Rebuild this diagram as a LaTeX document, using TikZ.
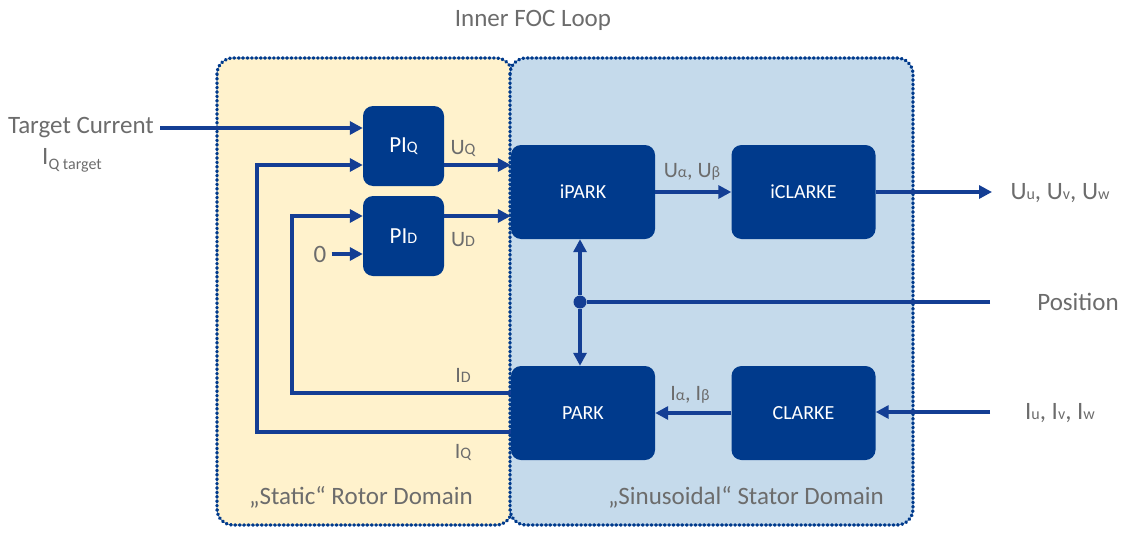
\documentclass[tikz,border=0pt]{standalone}
\usepackage{fontspec}
\setmainfont{Carlito}
\usepackage{tikz}
\usetikzlibrary{positioning,arrows.meta}

\definecolor{focblue}{RGB}{0,58,140}
\definecolor{focline}{RGB}{20,62,148}
\definecolor{rotorbg}{RGB}{255,242,204}
\definecolor{statorbg}{RGB}{197,218,235}
\definecolor{labgray}{RGB}{108,108,108}
\newcommand{\sm}[1]{{\fontsize{16}{16}\selectfont #1}}

\begin{document}
\begin{tikzpicture}[
    x=1pt, y=-1pt, font=\fontsize{25}{28}\selectfont,
    domainbox/.style={draw=focblue, line width=3.4pt, line cap=round, dash pattern=on 0.8pt off 3.6pt, rounded corners=16pt},
    block/.style  ={fill=focblue, text=white, rounded corners=10pt, inner sep=0pt, font=\fontsize{20}{24}\selectfont},
    piblock/.style={block, minimum width=81pt, minimum height=80pt, font=\fontsize{23}{26}\selectfont},
    fblock/.style ={block, minimum width=144pt, minimum height=94pt},
    sig/.style    ={draw=focline, line width=3.2pt, -{Triangle[length=13pt,width=13pt]}},
    wire/.style   ={draw=focline, line width=3.2pt},
    lab/.style    ={text=labgray, inner sep=0pt},
    slab/.style   ={lab, font=\fontsize{22}{24}\selectfont},
  ]
  \useasboundingbox (0,0) rectangle (1140,538);

  % ---- domains ----
  \draw[domainbox, fill=rotorbg]  (217,58) rectangle (512,525);
  \draw[domainbox, fill=statorbg] (510,58) rectangle (913,525);
  \node[lab] (title)  at (533,20)  {Inner FOC Loop};
  \node[lab] (rotor)  at (361,497) {„Static“ Rotor Domain};
  \node[lab] (stator) at (746,497) {„Sinusoidal“ Stator Domain};

  % ---- blocks ----
  \node[piblock] (piq)     at (403.5,146) {PI\sm{Q}};
  \node[piblock] (pid)     at (403.5,236) {PI\sm{D}};
  \node[fblock]  (ipark)   at (583,192)   {iPARK};
  \node[fblock]  (iclarke) at (803.5,192) {iCLARKE};
  \node[fblock]  (park)    at (583,413)   {PARK};
  \node[fblock]  (clarke)  at (803.5,413) {CLARKE};

  % ---- inputs ----
  \node[lab, anchor=east] (target) at (154,128) {Target Current};
  \node[lab] (iqtgt) at (72,160) {I\raisebox{-5pt}{\sm{Q target}}};
  \draw[sig, shorten <=6pt] (target.east) -- (piq.west |- target.east);
  \node[lab] (zero) at (320,254) {0};
  \draw[sig, shorten <=5pt] (zero.east) -- (pid.west |- zero.east);

  % ---- feedback I_Q, I_D ----
  \draw[sig] (park.west |- 0,432) -- (257,432) -- (257,165) -- (piq.west |- 0,165);
  \draw[sig] (park.west |- 0,393) -- (292,393) -- (292,216) -- (pid.west |- 0,216);
  \node[slab] (idlab) at (463,375) {I\sm{D}};
  \node[slab] (iqlab) at (463,452) {I\sm{Q}};

  % ---- forward path ----
  \draw[sig] (piq.east |- 0,165) -- (ipark.west |- 0,165);
  \draw[sig] (pid.east |- 0,216) -- (ipark.west |- 0,216);
  \node[slab] (uqlab) at (463,148) {U\sm{Q}};
  \node[slab] (udlab) at (463,240) {U\sm{D}};
  \draw[sig] (ipark) -- (iclarke);
  \node[slab] (ualab) at (692,172) {U\sm{α}, U\sm{β}};
  \coordinate (uout) at (992,192);
  \draw[sig] (iclarke) -- (uout);
  \node[lab] (uvw) at (1060,193) {U\sm{u}, U\sm{v}, U\sm{w}};

  % ---- position ----
  \coordinate (posin) at (990,302);
  \node[circle, fill=focline, minimum size=13pt, inner sep=0pt] (jn) at (580,302) {};
  \draw[wire] (posin) -- (jn);
  \draw[sig] (jn) -- (jn |- ipark.south);
  \draw[sig] (jn) -- (jn |- park.north);
  \node[lab] (poslab) at (1078,302) {Position};

  % ---- measured currents ----
  \coordinate (iin) at (990,412);
  \draw[sig] (iin) -- (clarke.east |- iin);
  \node[lab] (ivw) at (1060,413) {I\sm{u}, I\sm{v}, I\sm{w}};
  \draw[sig] (clarke) -- (park);
  \node[slab] (ialab) at (690,395) {I\sm{α}, I\sm{β}};
\end{tikzpicture}
\end{document}
